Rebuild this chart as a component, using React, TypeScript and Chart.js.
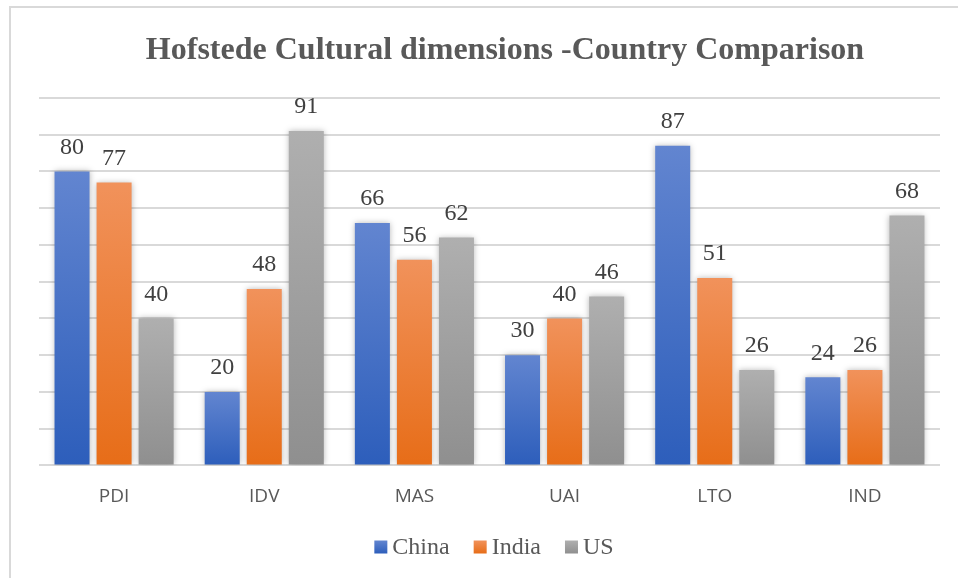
import React, { useEffect, useRef } from "react";
import { Chart, registerables } from "chart.js";

Chart.register(...registerables);

const titleText = "Hofstede Cultural dimensions -Country Comparison";
const categories = ["PDI", "IDV", "MAS", "UAI", "LTO", "IND"];
const seriesNames = ["China", "India", "US"];
const chinaValues = [80, 20, 66, 30, 87, 24];
const indiaValues = [77, 48, 56, 40, 51, 26];
const usValues = [40, 91, 62, 46, 26, 68];
const yTicks = [0, 10, 20, 30, 40, 50, 60, 70, 80, 90, 100];

const colorTops = ["#6285d0", "#f1925b", "#afafaf"];
const colorBottoms = ["#2d5ebb", "#e76d18", "#8f8f8f"];
const colorMids = ["#4472c4", "#ed7d31", "#a5a5a5"];

const SERIF = "'Liberation Serif', 'Times New Roman', serif";

function makeBg(i: number) {
  return (ctx: any) => {
    const chart = ctx.chart;
    const y = chart.scales && chart.scales.y;
    if (ctx.type !== "data" || !y || !chart.chartArea || ctx.raw == null) return colorMids[i];
    const top = y.getPixelForValue(ctx.raw);
    const bottom = y.getPixelForValue(0);
    if (!isFinite(top) || !isFinite(bottom) || top === bottom) return colorMids[i];
    const g = chart.ctx.createLinearGradient(0, top, 0, bottom);
    g.addColorStop(0, colorTops[i]);
    g.addColorStop(1, colorBottoms[i]);
    return g;
  };
}

const framePlugin = {
  id: "frame",
  beforeDraw(chart: any) {
    const c = chart.ctx;
    c.save();
    c.fillStyle = "#ffffff";
    c.fillRect(0, 0, chart.width, chart.height);
    c.strokeStyle = "#d9d9d9";
    c.lineWidth = 2;
    c.beginPath();
    c.moveTo(10, chart.height);
    c.lineTo(10, 7);
    c.lineTo(chart.width, 7);
    c.stroke();
    c.font = "bold 32px " + SERIF;
    c.fillStyle = "#595959";
    c.textAlign = "center";
    c.textBaseline = "alphabetic";
    c.fillText(titleText, 505, 59);
    c.restore();
  },
  beforeDatasetsDraw(chart: any) {
    const c = chart.ctx;
    c.save();
    c.shadowColor = "rgba(0,0,0,0.28)";
    c.shadowBlur = 6;
    c.shadowOffsetX = 0;
    c.shadowOffsetY = 0;
  },
  afterDatasetsDraw(chart: any) {
    const c = chart.ctx;
    c.restore();
    c.save();
    c.font = "24px " + SERIF;
    c.fillStyle = "#404040";
    c.textAlign = "center";
    c.textBaseline = "middle";
    chart.data.datasets.forEach((ds: any, di: number) => {
      const meta = chart.getDatasetMeta(di);
      meta.data.forEach((el: any, idx: number) => {
        c.fillText(String(ds.data[idx]), el.x, el.y - 24);
      });
    });
    c.restore();
  },
  afterDraw(chart: any) {
    const c = chart.ctx;
    c.save();
    c.font = "24px " + SERIF;
    c.textBaseline = "middle";
    c.textAlign = "left";
    const box = 13;
    const gapText = 5;
    const gapItem = 24;
    const widths = seriesNames.map((n) => box + gapText + c.measureText(n).width);
    const total = widths.reduce((a, b) => a + b, 0) + gapItem * (seriesNames.length - 1);
    const cy = 547;
    let x = 494 - total / 2;
    seriesNames.forEach((n, i) => {
      const g = c.createLinearGradient(0, cy - box / 2, 0, cy + box / 2);
      g.addColorStop(0, colorTops[i]);
      g.addColorStop(1, colorBottoms[i]);
      c.fillStyle = g;
      c.fillRect(x, cy - box / 2, box, box);
      c.fillStyle = "#595959";
      c.fillText(n, x + box + gapText, cy + 1);
      x += widths[i] + gapItem;
    });
    c.restore();
  },
};

export default function App() {
  const ref = useRef<HTMLCanvasElement | null>(null);
  useEffect(() => {
    if (!ref.current) return;
    const allValues = [chinaValues, indiaValues, usValues];
    const chart = new Chart(ref.current, {
      type: "bar",
      data: {
        labels: categories,
        datasets: seriesNames.map((name, i) => ({
          label: name,
          data: allValues[i],
          backgroundColor: makeBg(i),
          borderWidth: 0,
          categoryPercentage: 0.84,
          barPercentage: 0.833,
        })),
      },
      options: {
        animation: false,
        responsive: false,
        maintainAspectRatio: false,
        layout: { padding: { left: 39, right: 18, top: 98, bottom: 50.6 } },
        plugins: {
          title: { display: false },
          legend: { display: false },
          tooltip: { enabled: false },
        },
        scales: {
          x: {
            grid: { display: false, drawTicks: false },
            border: { display: false },
            ticks: {
              color: "#595959",
              padding: 19.6,
              font: { family: "'Open Sans', 'Liberation Sans', sans-serif", size: 19 },
            },
          },
          y: {
            min: 0,
            max: 100,
            afterBuildTicks: (axis: any) => {
              axis.ticks = yTicks.map((v) => ({ value: v }));
            },
            ticks: { display: false },
            border: { display: false },
            grid: { color: "#d9d9d9", lineWidth: 2, drawTicks: false },
          },
        },
      },
      plugins: [framePlugin],
    });
    return () => chart.destroy();
  }, []);
  return (
    <div style={{ position: "fixed", left: 0, top: 0, width: 958, height: 578 }}>
      <canvas ref={ref} width={958} height={578} style={{ width: 958, height: 578, display: "block" }} />
    </div>
  );
}
